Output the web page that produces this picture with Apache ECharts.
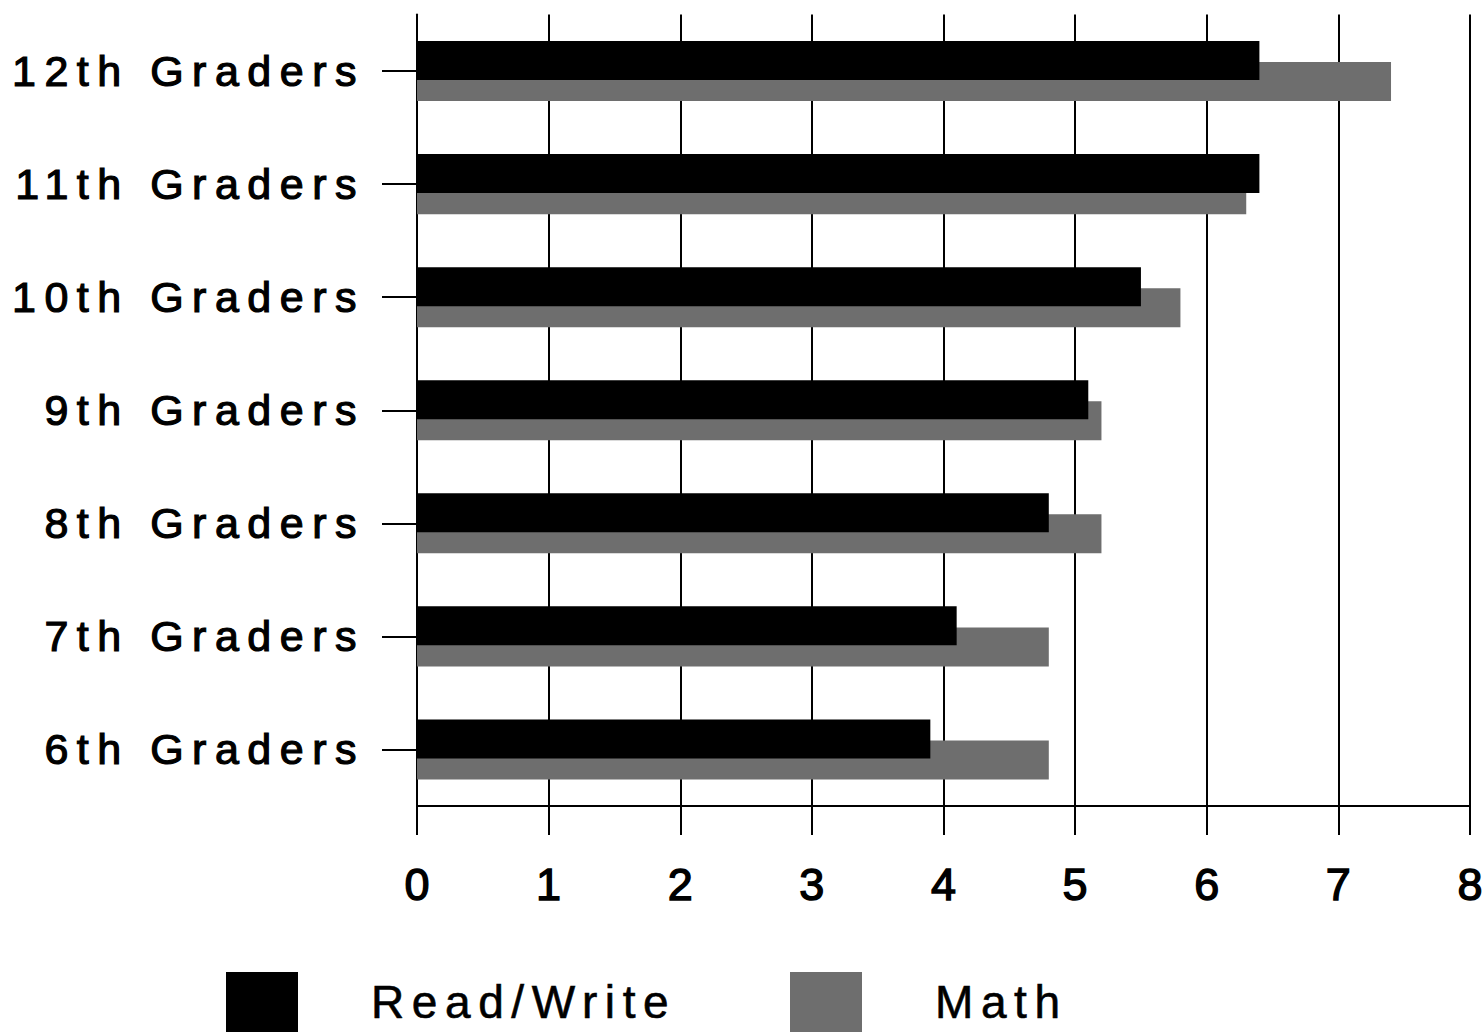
<!DOCTYPE html>
<html>
<head>
<meta charset="utf-8">
<script src="https://cdn.jsdelivr.net/npm/echarts@6/dist/echarts.min.js"></script>
<style>
  html, body { margin: 0; padding: 0; background: #ffffff; }
  #chart { width: 1484px; height: 1032px; }
  /* wide tracking for the grade names and the legend entries */
  #chart text[text-anchor="end"] { letter-spacing: 8.5px; }
  #chart text[text-anchor="start"] { letter-spacing: 7.6px; }
  #chart text[text-anchor="middle"] { letter-spacing: 0; }
</style>
</head>
<body>
<div id="chart"></div>
<script>
// Grade levels, listed bottom to top
const categories = ['6th Graders', '7th Graders', '8th Graders', '9th Graders',
                    '10th Graders', '11th Graders', '12th Graders'];
const readWrite = [3.9, 4.1, 4.8, 5.1, 5.5, 6.4, 6.4];
const math      = [4.8, 4.8, 5.2, 5.2, 5.8, 6.3, 7.4];
const valueTicks = [0, 1, 2, 3, 4, 5, 6, 7, 8];

const FONT = "'Liberation Sans', Arial, sans-serif";
const INK = '#000000';
const MATH_GRAY = '#6e6e6e';

const chart = echarts.init(document.getElementById('chart'), null, { renderer: 'svg' });

const legendText = {
  fontFamily: FONT, fontSize: 46, color: INK,
  textBorderColor: INK, textBorderWidth: 0.6
};

chart.setOption({
  backgroundColor: '#ffffff',
  animation: false,
  grid: { left: 417, right: 14, top: 14.5, bottom: 226, outerBoundsMode: 'none' },
  legend: [
    {
      data: ['Read/Write'], left: 226, top: 972, padding: 0, icon: 'rect',
      itemWidth: 72, itemHeight: 60, selectedMode: false,
      textStyle: Object.assign({ padding: [0, 0, 0, 68] }, legendText)
    },
    {
      data: ['Math'], left: 790, top: 972, padding: 0, icon: 'rect',
      itemWidth: 72, itemHeight: 60, selectedMode: false,
      textStyle: Object.assign({ padding: [0, 0, 0, 68] }, legendText)
    }
  ],
  xAxis: {
    type: 'value',
    min: valueTicks[0],
    max: valueTicks[valueTicks.length - 1],
    interval: 1,
    axisLine: { show: true, lineStyle: { color: INK, width: 2 } },
    axisTick: { show: true, length: 29, lineStyle: { color: INK, width: 2 } },
    splitLine: { show: true, lineStyle: { color: INK, width: 2 } },
    axisLabel: {
      fontFamily: FONT, fontSize: 45, color: INK,
      textBorderColor: INK, textBorderWidth: 1.4,
      margin: 56
    }
  },
  yAxis: {
    type: 'category',
    data: categories,
    axisLine: { show: true, lineStyle: { color: INK, width: 2 } },
    axisTick: { show: true, alignWithLabel: true, length: 35, lineStyle: { color: INK, width: 2 } },
    splitLine: { show: false },
    axisLabel: {
      fontFamily: FONT, fontSize: 43, color: INK,
      textBorderColor: INK, textBorderWidth: 1.2, margin: 52
    }
  },
  series: [
    {
      name: 'Read/Write', type: 'bar', data: readWrite,
      barWidth: 39, barGap: '-46%', z: 3,
      itemStyle: { color: INK }
    },
    {
      name: 'Math', type: 'bar', data: math,
      barWidth: 39, barGap: '-46%', z: 2,
      itemStyle: { color: MATH_GRAY }
    }
  ]
});
</script>
</body>
</html>
